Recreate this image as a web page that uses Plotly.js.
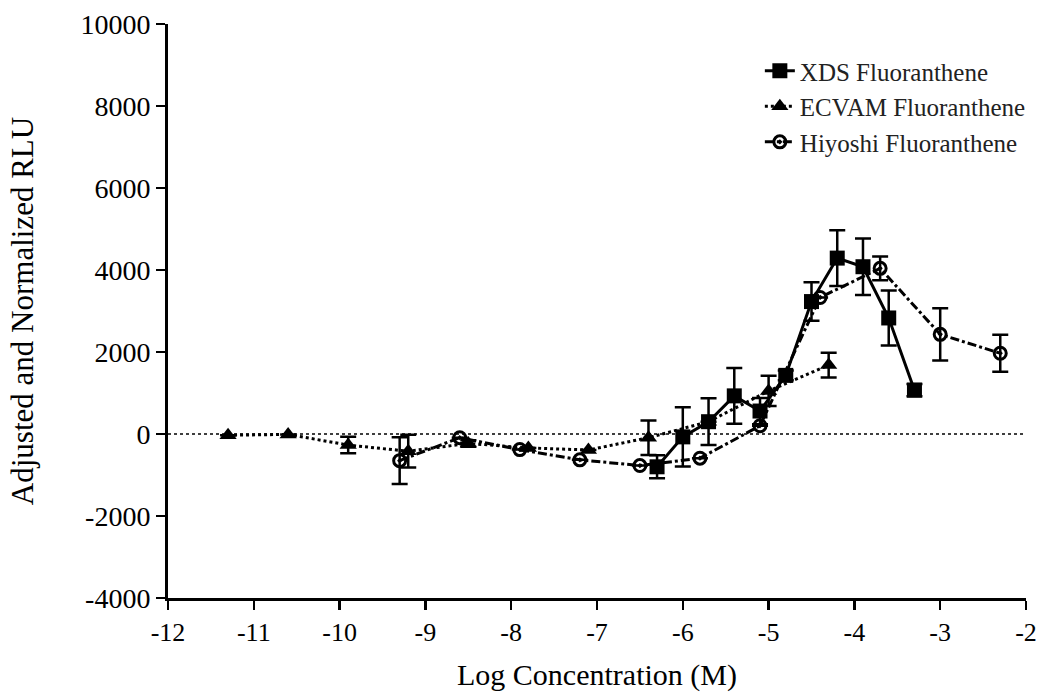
<!DOCTYPE html>
<html>
<head>
<meta charset="utf-8">
<script src="https://cdn.plot.ly/plotly-3.0.1.min.js"></script>
<style>html,body{margin:0;padding:0;background:#fff;}#chart{width:1042px;height:692px;}</style>
</head>
<body>
<div id="chart"></div>
<script>
// XDS Fluoranthene
var xdsX = [-6.3, -6.0, -5.7, -5.4, -5.1, -4.8, -4.5, -4.2, -3.9, -3.6, -3.3];
var xdsY = [-800, -70, 300, 930, 560, 1430, 3230, 4290, 4080, 2830, 1070];
var xdsErr = [280, 720, 570, 680, 320, 120, 470, 680, 690, 670, 150];

// ECVAM Fluoranthene
var ecvamX = [-11.3, -10.6, -9.9, -9.2, -8.5, -7.8, -7.1, -6.4, -5.7, -5.0, -4.3];
var ecvamY = [-30, -10, -270, -420, -230, -340, -390, -90, 300, 1050, 1680];
var ecvamErr = [0, 0, 200, 400, 80, 0, 0, 420, 0, 370, 300];

// Hiyoshi Fluoranthene
var hiyX = [-9.3, -8.6, -7.9, -7.2, -6.5, -5.8, -5.1, -4.4, -3.7, -3.0, -2.3];
var hiyY = [-650, -90, -380, -630, -770, -590, 200, 3330, 4040, 2430, 1970];
var hiyErr = [570, 0, 0, 0, 0, 0, 0, 0, 290, 640, 450];

var seriesNames = ["XDS Fluoranthene", "ECVAM Fluoranthene", "Hiyoshi Fluoranthene"];
var xTicks = [-12, -11, -10, -9, -8, -7, -6, -5, -4, -3, -2];
var yTicks = [-4000, -2000, 0, 2000, 4000, 6000, 8000, 10000];

var FONT = "Liberation Serif";
function err(a){ return {type:"data", array:a, visible:true, color:"#000", thickness:2.5, width:8}; }

var traces = [
  {x: xdsX, y: xdsY, name: seriesNames[0], type: "scatter", mode: "lines+markers",
   line: {color: "#000", width: 3, dash: "solid"},
   marker: {symbol: "square", size: 15, color: "#000"},
   error_y: err(xdsErr)},
  {x: ecvamX, y: ecvamY, name: seriesNames[1], type: "scatter", mode: "lines+markers",
   line: {color: "#000", width: 3, dash: "dot"},
   marker: {symbol: "triangle-up", size: 15, color: "#000"},
   error_y: err(ecvamErr)},
  {x: hiyX, y: hiyY, name: seriesNames[2], type: "scatter", mode: "lines+markers",
   line: {color: "#000", width: 3, dash: "dashdot"},
   marker: {symbol: "circle-open-dot", size: 12, color: "#000", line: {width: 3, color: "#000"}},
   error_y: err(hiyErr)}
];

var layout = {
  width: 1042, height: 692,
  margin: {l: 168, r: 15, t: 24, b: 94},
  paper_bgcolor: "#fff", plot_bgcolor: "#fff",
  font: {family: FONT, color: "#000", size: 24},
  showlegend: true,
  legend: {x: 0.689, y: 0.958, xanchor: "left", yanchor: "top", bgcolor: "rgba(0,0,0,0)",
           font: {family: FONT, size: 25, color: "#222"}, tracegroupgap: 0},
  xaxis: {
    range: [-12, -2], tickvals: xTicks, ticktext: xTicks.map(String),
    showgrid: false, zeroline: false, showline: true, linecolor: "#000", linewidth: 3,
    ticks: "outside", ticklen: 9, tickwidth: 2.5, tickcolor: "#000",
    tickfont: {family: FONT, size: 26, color: "#000"},
    title: {text: "Log Concentration (M)", font: {family: FONT, size: 30, color: "#000"}, standoff: 18}
  },
  yaxis: {
    range: [-4000, 10000], tickvals: yTicks, ticktext: yTicks.map(String),
    showgrid: false, zeroline: false, showline: true, linecolor: "#000", linewidth: 3,
    ticks: "outside", ticklen: 9, tickwidth: 2.5, tickcolor: "#000",
    tickfont: {family: FONT, size: 28, color: "#000"},
    title: {text: "Adjusted and Normalized RLU", font: {family: FONT, size: 31, color: "#000"}, standoff: 38}
  },
  shapes: [
    {type: "line", xref: "x", yref: "y", x0: -12, x1: -2, y0: 0, y1: 0,
     line: {color: "#000", width: 1.5, dash: "dot"}, layer: "below"}
  ]
};

Plotly.newPlot("chart", traces, layout, {displayModeBar: false, staticPlot: true});
</script>
</body>
</html>
